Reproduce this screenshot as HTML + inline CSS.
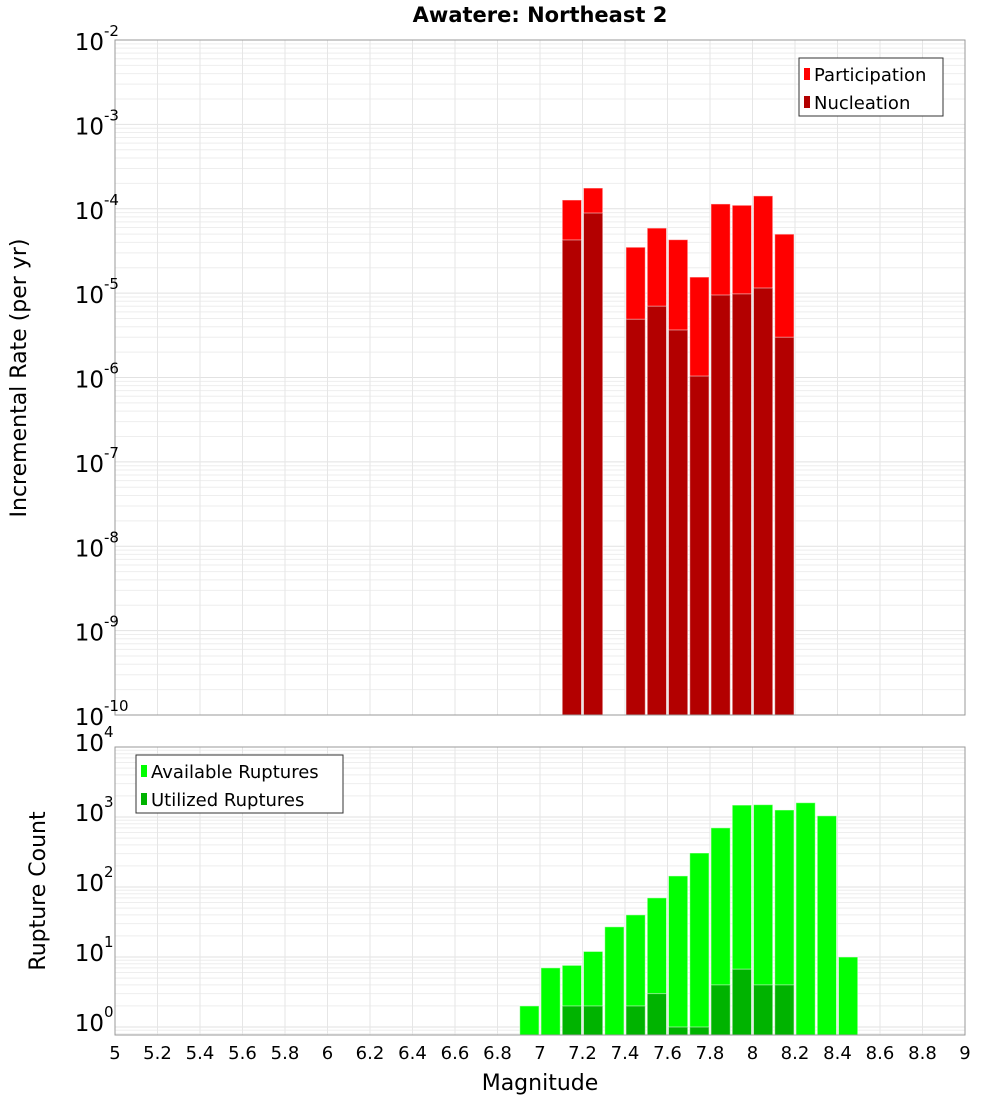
<!DOCTYPE html>
<html><head><meta charset="utf-8"><style>
body{margin:0;background:#fff;font-family:"Liberation Sans","DejaVu Sans",sans-serif}
svg text{font-family:"DejaVu Sans","Liberation Sans",sans-serif}
</style></head><body>
<svg id="c" width="1000" height="1100">
<text x="540" y="22" text-anchor="middle" font-size="21" font-weight="bold">Awatere: Northeast 2</text>
</svg>
<script>
const mags=[7.1,7.2,7.4,7.5,7.6,7.7,7.8,7.9,8.0,8.1];
const partic=[1.27e-4,1.76e-4,3.5e-5,5.9e-5,4.3e-5,1.55e-5,1.14e-4,1.1e-4,1.42e-4,5.0e-5];
const nucl=[4.27e-5,8.9e-5,4.9e-6,7.0e-6,3.66e-6,1.04e-6,9.5e-6,9.8e-6,1.15e-5,3.0e-6];
const availMags=[6.9,7.0,7.1,7.2,7.3,7.4,7.5,7.6,7.7,7.8,7.9,8.0,8.1,8.2,8.3,8.4];
const availCounts=[2,7,7.6,12,27,40,70,144,306,700,1480,1500,1260,1600,1040,10];
const usedMags=[7.1,7.2,7.4,7.5,7.6,7.7,7.8,7.9,8.0,8.1];
const usedCounts=[2,2,2,3,1,1,4,6.7,4,4];
const xTicks=[5,5.2,5.4,5.6,5.8,6,6.2,6.4,6.6,6.8,7,7.2,7.4,7.6,7.8,8,8.2,8.4,8.6,8.8,9];
const topExps=[-2,-3,-4,-5,-6,-7,-8,-9,-10];
const botExps=[4,3,2,1,0];

const NS='http://www.w3.org/2000/svg',svg=document.getElementById('c');
function el(t,a,p){const e=document.createElementNS(NS,t);for(const k in a)e.setAttribute(k,a[k]);(p||svg).appendChild(e);return e;}
const X0=115,X1=965;
const xs=m=>X0+(m-5)/4*(X1-X0);
const T0=40,T1=715,ys1=v=>T0+(-2-Math.log10(v))*(T1-T0)/8;
const B0=747,B1=1035,BD=70,ys2=v=>B0+(4-Math.log10(v))*BD;

function grid(y0,y1,lo,hi,ys){
  for(let e=lo;e<hi;e++)for(let k=1;k<10;k++){const y=ys(k*Math.pow(10,e));if(y<y0||y>y1)continue;
    const l=el('line',{x1:X0,x2:X1,y1:y,y2:y,stroke:k==1?'#e2e2e2':'#eeeeee','stroke-width':1});
    }
  xTicks.forEach(t=>{const l=el('line',{x1:xs(t),x2:xs(t),y1:y0,y2:y1,stroke:'#e6e6e6'});
    });
}
grid(T0,T1,-10,-1,ys1);
grid(B0,B1,-1,4,ys2);

function bar(m,v,ys,yb,fill,name){const x=xs(m),w=xs(m+0.1)-x,y=ys(v);
  const r=el('rect',{x:x+1,y:y,width:w-2,height:yb-y,fill:fill,stroke:'rgba(255,255,255,0.5)','stroke-width':1});
  }
mags.forEach((m,i)=>bar(m,partic[i],ys1,T1,'#ff0000','participation-bar'));
mags.forEach((m,i)=>bar(m,nucl[i],ys1,T1,'#b30000','nucleation-bar'));
availMags.forEach((m,i)=>bar(m,availCounts[i],ys2,B1,'#00ff00','available-bar'));
usedMags.forEach((m,i)=>bar(m,usedCounts[i],ys2,B1,'#00b300','utilized-bar'));

[[T0,T1,'top-plot-frame'],[B0,B1,'bottom-plot-frame']].forEach(([a,b,n])=>{const r=el('rect',{x:X0,y:a,width:X1-X0,height:b-a,fill:'none',stroke:'#999'});
  });

function ylab(e,y,name){const t=el('text',{x:104,y:y+10,'text-anchor':'end','font-size':23});
  t.textContent='10';
  const s=el('text',{x:104,y:y-4,'font-size':15});s.textContent=String(e);
  }
topExps.forEach(e=>ylab(e,ys1(Math.pow(10,e)),'y-tick-label-top'));
botExps.forEach(e=>ylab(e,ys2(Math.pow(10,e))-6,'y-tick-label-bottom'));
xTicks.forEach(t=>{const l=el('text',{x:xs(t),y:1059,'text-anchor':'middle','font-size':18});
  l.textContent=String(t);});

function txt(s,a,n){const t=el('text',a);t.textContent=s;return t;}
txt('Magnitude',{x:540,y:1090,'text-anchor':'middle','font-size':22},'x-axis-title');
txt('Incremental Rate (per yr)',{x:26,y:378,'text-anchor':'middle','font-size':22,transform:'rotate(-90 26 378)'},'y-axis-title-top');
txt('Rupture Count',{x:45,y:891,'text-anchor':'middle','font-size':22,transform:'rotate(-90 45 891)'},'y-axis-title-bottom');

function legend(x,y,w,items,n){const r=el('rect',{x:x,y:y,width:w,height:58,fill:'#fff',stroke:'#333'});
  
  items.forEach(([c,s],i)=>{const k=el('rect',{x:x+5,y:y+10+i*28,width:6,height:12,fill:c});
    
    txt(s,{x:x+15,y:y+23+i*28,'font-size':18},'legend-entry');});}
legend(799,58,144,[['#ff0000','Participation'],['#b30000','Nucleation']],'legend-top');
legend(136,755,207,[['#00ff00','Available Ruptures'],['#00b300','Utilized Ruptures']],'legend-bottom');
</script>
</body></html>
